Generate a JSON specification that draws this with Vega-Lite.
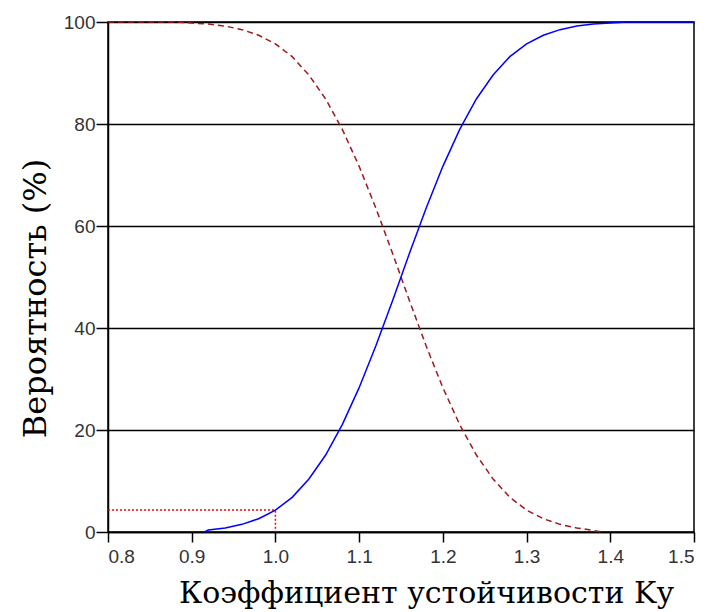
{
  "$schema": "https://vega.github.io/schema/vega-lite/v6.json",
  "width": 586,
  "height": 510,
  "autosize": "none",
  "padding": {"left": 108, "top": 22, "right": 17, "bottom": 80},
  "background": "white",
  "config": {
    "view": {"stroke": "black", "strokeWidth": 1.5},
    "axis": {
      "domainColor": "black", "domainWidth": 1.5, "tickColor": "black", "tickWidth": 1.5,
      "labelFont": "Liberation Sans", "labelFontSize": 19, "labelColor": "#333333"
    }
  },
  "datasets": {
    "blue": [
      {"x": 0.915, "p": 0}, {"x": 0.92, "p": 0.4}, {"x": 0.94, "p": 0.8}, {"x": 0.96, "p": 1.5},
      {"x": 0.98, "p": 2.6}, {"x": 1.0, "p": 4.3}, {"x": 1.02, "p": 6.8}, {"x": 1.04, "p": 10.4},
      {"x": 1.06, "p": 15.1}, {"x": 1.08, "p": 21.1}, {"x": 1.1, "p": 28.3}, {"x": 1.12, "p": 36.5},
      {"x": 1.14, "p": 45.4}, {"x": 1.16, "p": 54.6}, {"x": 1.18, "p": 63.5}, {"x": 1.2, "p": 71.7},
      {"x": 1.22, "p": 78.9}, {"x": 1.24, "p": 84.9}, {"x": 1.26, "p": 89.6}, {"x": 1.28, "p": 93.2},
      {"x": 1.3, "p": 95.7}, {"x": 1.32, "p": 97.4}, {"x": 1.34, "p": 98.5}, {"x": 1.36, "p": 99.2},
      {"x": 1.38, "p": 99.6}, {"x": 1.4, "p": 99.8}, {"x": 1.42, "p": 100}, {"x": 1.5, "p": 100}
    ],
    "red": [
      {"x": 0.8, "p": 100}, {"x": 0.88, "p": 100}, {"x": 0.9, "p": 99.8}, {"x": 0.92, "p": 99.6},
      {"x": 0.94, "p": 99.2}, {"x": 0.96, "p": 98.5}, {"x": 0.98, "p": 97.4}, {"x": 1.0, "p": 95.7},
      {"x": 1.02, "p": 93.2}, {"x": 1.04, "p": 89.6}, {"x": 1.06, "p": 84.9}, {"x": 1.08, "p": 78.9},
      {"x": 1.1, "p": 71.7}, {"x": 1.12, "p": 63.5}, {"x": 1.14, "p": 54.6}, {"x": 1.16, "p": 45.4},
      {"x": 1.18, "p": 36.5}, {"x": 1.2, "p": 28.3}, {"x": 1.22, "p": 21.1}, {"x": 1.24, "p": 15.1},
      {"x": 1.26, "p": 10.4}, {"x": 1.28, "p": 6.8}, {"x": 1.3, "p": 4.3}, {"x": 1.32, "p": 2.6},
      {"x": 1.34, "p": 1.5}, {"x": 1.36, "p": 0.8}, {"x": 1.38, "p": 0.3}, {"x": 1.39, "p": 0}
    ],
    "ref": [
      {"x": 0.8, "p": 4.3, "o": 1}, {"x": 1.0, "p": 4.3, "o": 2}, {"x": 1.0, "p": 0, "o": 3}
    ],
    "ticks": [
      {"x": 0.9}, {"x": 1.0}, {"x": 1.1}, {"x": 1.2}, {"x": 1.3}, {"x": 1.4}
    ]
  },
  "encoding": {
    "x": {
      "field": "x", "type": "quantitative",
      "scale": {"domain": [0.8, 1.5], "nice": false, "zero": false},
      "axis": {
        "values": [0.8, 0.9, 1.0, 1.1, 1.2, 1.3, 1.4, 1.5], "format": ".1f",
        "grid": false, "tickSize": 10, "labelPadding": 5,
        "title": "Коэффициент устойчивости Kу",
        "titleFont": "DejaVu Serif", "titleFontSize": 30, "titleFontWeight": "normal", "titleColor": "black",
        "titleX": 318, "titleY": 70, "titleAlign": "center", "titleBaseline": "alphabetic"
      }
    },
    "y": {
      "field": "p", "type": "quantitative",
      "scale": {"domain": [0, 100], "nice": false},
      "axis": {
        "values": [0, 20, 40, 60, 80, 100],
        "grid": true, "gridColor": "black", "gridWidth": 1.5, "gridOpacity": 1,
        "tickSize": 12, "labelPadding": 1,
        "title": "Вероятность (%)",
        "titleFont": "DejaVu Serif", "titleFontSize": 32, "titleFontWeight": "normal", "titleColor": "black",
        "titleX": -63, "titleY": 276, "titleAngle": -90, "titleAlign": "center", "titleBaseline": "alphabetic"
      }
    }
  },
  "layer": [
    {
      "data": {"name": "ticks"},
      "mark": {"type": "rule", "color": "black", "strokeWidth": 1.5},
      "encoding": {"y": {"datum": 0}, "y2": {"datum": 2}}
    },
    {
      "data": {"name": "ref"},
      "mark": {"type": "line", "color": "#ff0000", "strokeWidth": 1.5, "strokeDash": [2, 2]},
      "encoding": {"order": {"field": "o"}}
    },
    {
      "data": {"name": "red"},
      "mark": {"type": "line", "color": "#a0181c", "strokeWidth": 1.5, "strokeDash": [6, 4]},
      "encoding": {}
    },
    {
      "data": {"name": "blue"},
      "mark": {"type": "line", "color": "#0000ff", "strokeWidth": 1.5},
      "encoding": {}
    }
  ]
}
